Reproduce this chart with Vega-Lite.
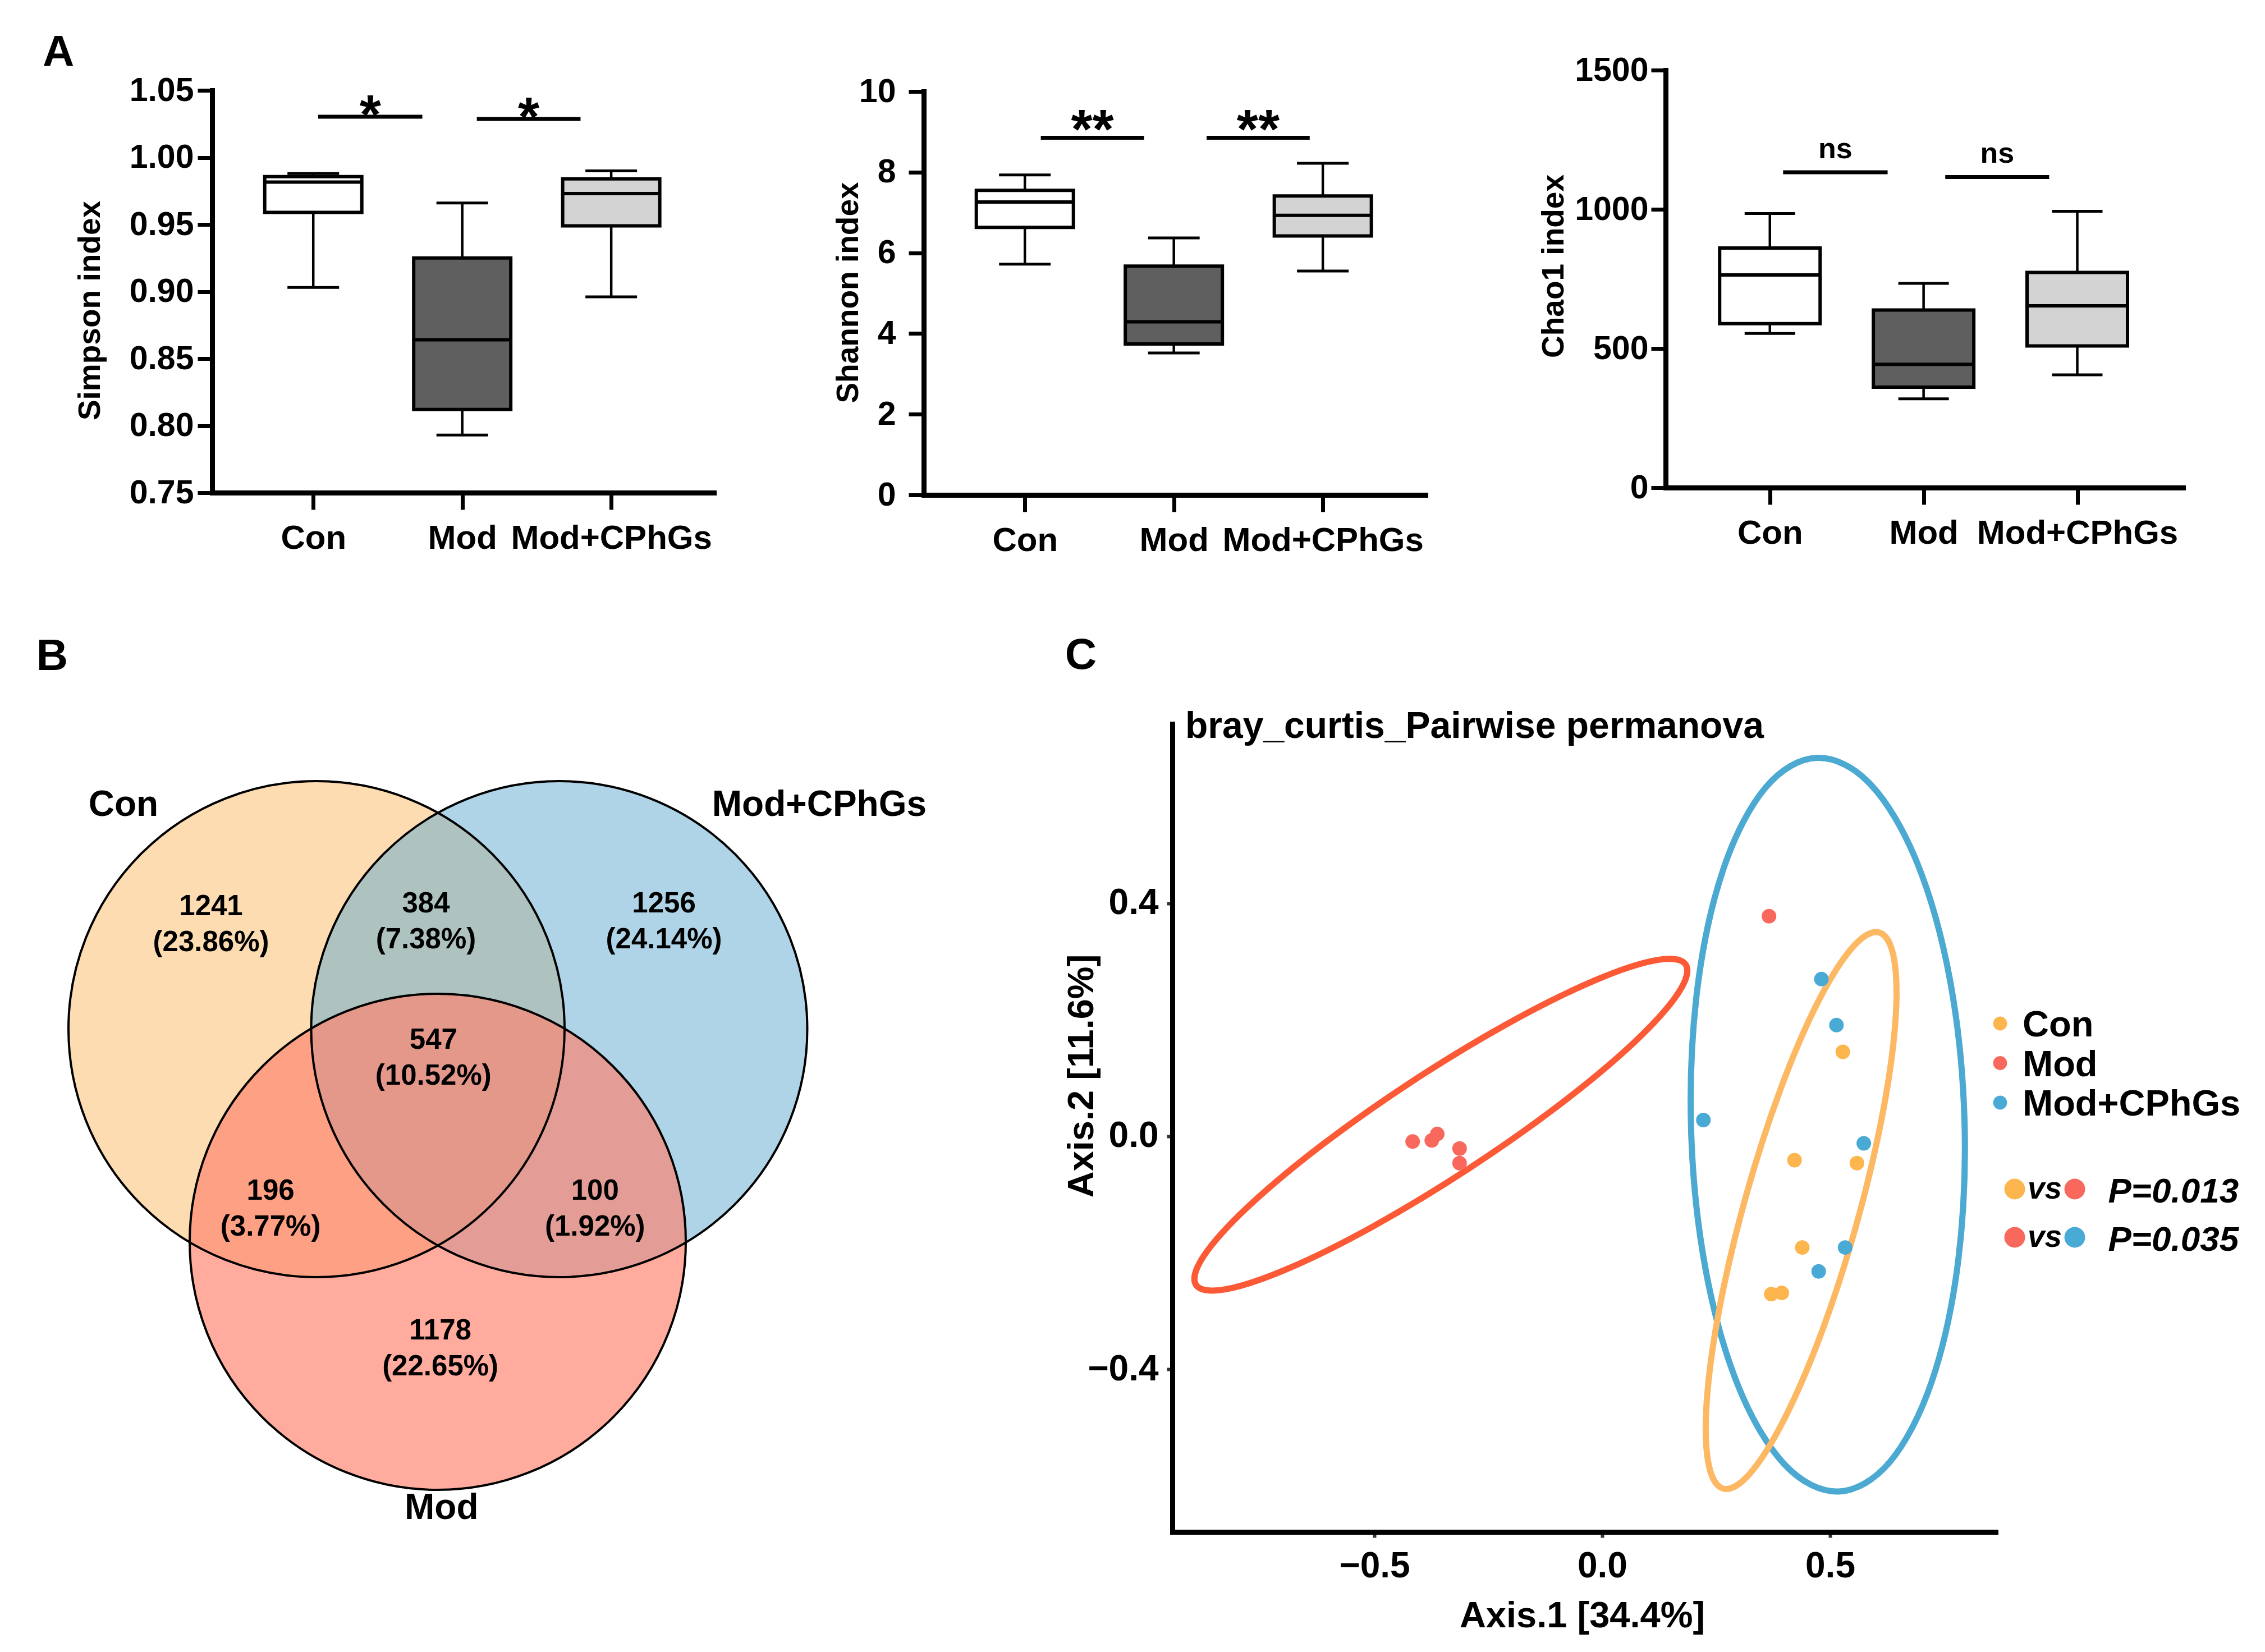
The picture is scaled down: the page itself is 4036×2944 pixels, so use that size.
{
  "$schema": "https://vega.github.io/schema/vega-lite/v6.json",
  "width": 4036,
  "height": 2944,
  "autosize": {"type": "none"},
  "padding": 0,
  "background": "white",
  "config": {
    "view": {"stroke": null},
    "font": "Liberation Sans",
    "axis": {"grid": false, "domainColor": "black", "tickColor": "black", "labelColor": "black", "titleColor": "black", "labelFont": "Liberation Sans", "titleFont": "Liberation Sans", "labelFontWeight": "bold", "titleFontWeight": "bold", "labelOverlap": false, "labelFlush": false, "labelLimit": 1000, "domainCap": "square"},
    "text": {"color": "black", "font": "Liberation Sans"}
  },
  "datasets": {
    "simpson": [
      {"group": "Con", "g": 1, "lower": 0.903, "q1": 0.959, "median": 0.9816, "q3": 0.9857, "upper": 0.988},
      {"group": "Mod", "g": 2, "lower": 0.793, "q1": 0.812, "median": 0.864, "q3": 0.925, "upper": 0.966},
      {"group": "Mod+CPhGs", "g": 3, "lower": 0.896, "q1": 0.949, "median": 0.973, "q3": 0.984, "upper": 0.99}
    ],
    "shannon": [
      {"group": "Con", "g": 1, "lower": 5.72, "q1": 6.63, "median": 7.26, "q3": 7.55, "upper": 7.93},
      {"group": "Mod", "g": 2, "lower": 3.52, "q1": 3.74, "median": 4.29, "q3": 5.67, "upper": 6.37},
      {"group": "Mod+CPhGs", "g": 3, "lower": 5.55, "q1": 6.42, "median": 6.93, "q3": 7.41, "upper": 8.22}
    ],
    "chao1": [
      {"group": "Con", "g": 1, "lower": 554, "q1": 589, "median": 764, "q3": 861, "upper": 985},
      {"group": "Mod", "g": 2, "lower": 319, "q1": 361, "median": 443, "q3": 638, "upper": 734},
      {"group": "Mod+CPhGs", "g": 3, "lower": 405, "q1": 509, "median": 653, "q3": 773, "upper": 993}
    ],
    "simpsonSig": [
      {"x1": 1.033, "x2": 1.732, "xm": 1.383, "y": 1.0303, "label": "*"},
      {"x1": 2.098, "x2": 2.794, "xm": 2.446, "y": 1.0287, "label": "*"}
    ],
    "shannonSig": [
      {"x1": 1.107, "x2": 1.8, "xm": 1.4535, "y": 8.853, "label": "**"},
      {"x1": 2.22, "x2": 2.912, "xm": 2.566, "y": 8.853, "label": "**"}
    ],
    "chao1Sig": [
      {"x1": 1.086, "x2": 1.766, "xm": 1.426, "y": 1133, "label": "ns"},
      {"x1": 2.141, "x2": 2.817, "xm": 2.479, "y": 1116, "label": "ns"}
    ],
    "venn": [
      {"set": "Con", "x": 0, "y": 0, "lx": -0.7785, "ly": 0.902},
      {"set": "Mod+CPhGs", "x": 0.9785, "y": 0, "lx": 2.027, "ly": 0.902},
      {"set": "Mod", "x": 0.4887, "y": -0.8575, "lx": 0.504, "ly": -1.931}
    ],
    "vennRegions": [
      {"count": "1241", "pct": "(23.86%)", "x": -0.4253, "y": 0.4213},
      {"count": "384", "pct": "(7.38%)", "x": 0.4412, "y": 0.433},
      {"count": "1256", "pct": "(24.14%)", "x": 1.4005, "y": 0.433},
      {"count": "547", "pct": "(10.52%)", "x": 0.4713, "y": -0.1183},
      {"count": "196", "pct": "(3.77%)", "x": -0.1853, "y": -0.7256},
      {"count": "100", "pct": "(1.92%)", "x": 1.1228, "y": -0.7256},
      {"count": "1178", "pct": "(22.65%)", "x": 0.4991, "y": -1.2898}
    ],
    "pcoa": [
      {"group": "Con", "x": 0.528, "y": 0.145},
      {"group": "Con", "x": 0.422, "y": -0.041},
      {"group": "Con", "x": 0.559, "y": -0.046},
      {"group": "Con", "x": 0.439, "y": -0.191},
      {"group": "Con", "x": 0.371, "y": -0.271},
      {"group": "Con", "x": 0.394, "y": -0.269},
      {"group": "Mod", "x": 0.366, "y": 0.378},
      {"group": "Mod", "x": -0.416, "y": -0.009},
      {"group": "Mod", "x": -0.374, "y": -0.007},
      {"group": "Mod", "x": -0.362, "y": 0.004},
      {"group": "Mod", "x": -0.313, "y": -0.021},
      {"group": "Mod", "x": -0.313, "y": -0.046},
      {"group": "Mod+CPhGs", "x": 0.481, "y": 0.27},
      {"group": "Mod+CPhGs", "x": 0.514, "y": 0.191},
      {"group": "Mod+CPhGs", "x": 0.222, "y": 0.028},
      {"group": "Mod+CPhGs", "x": 0.574, "y": -0.012},
      {"group": "Mod+CPhGs", "x": 0.533, "y": -0.191},
      {"group": "Mod+CPhGs", "x": 0.475, "y": -0.232}
    ],
    "ellipses": [
      {"group": "Mod", "i": 0, "x": 0.1833, "y": 0.2949},
      {"group": "Mod", "i": 1, "x": 0.1663, "y": 0.2454},
      {"group": "Mod", "i": 2, "x": 0.0702, "y": 0.1615},
      {"group": "Mod", "i": 3, "x": -0.0907, "y": 0.0561},
      {"group": "Mod", "i": 4, "x": -0.2916, "y": -0.0548},
      {"group": "Mod", "i": 5, "x": -0.502, "y": -0.1544},
      {"group": "Mod", "i": 6, "x": -0.6898, "y": -0.2274},
      {"group": "Mod", "i": 7, "x": -0.8266, "y": -0.2628},
      {"group": "Mod", "i": 8, "x": -0.8914, "y": -0.2552},
      {"group": "Mod", "i": 9, "x": -0.8744, "y": -0.2056},
      {"group": "Mod", "i": 10, "x": -0.7783, "y": -0.1217},
      {"group": "Mod", "i": 11, "x": -0.6174, "y": -0.0163},
      {"group": "Mod", "i": 12, "x": -0.4165, "y": 0.0946},
      {"group": "Mod", "i": 13, "x": -0.2062, "y": 0.1941},
      {"group": "Mod", "i": 14, "x": -0.0183, "y": 0.2671},
      {"group": "Mod", "i": 15, "x": 0.1185, "y": 0.3025},
      {"group": "Mod+CPhGs", "i": 0, "x": 0.472, "y": 0.65},
      {"group": "Mod+CPhGs", "i": 1, "x": 0.5886, "y": 0.6047},
      {"group": "Mod+CPhGs", "i": 2, "x": 0.6908, "y": 0.4703},
      {"group": "Mod+CPhGs", "i": 3, "x": 0.7634, "y": 0.2674},
      {"group": "Mod+CPhGs", "i": 4, "x": 0.795, "y": 0.0268},
      {"group": "Mod+CPhGs", "i": 5, "x": 0.781, "y": -0.2148},
      {"group": "Mod+CPhGs", "i": 6, "x": 0.7234, "y": -0.4207},
      {"group": "Mod+CPhGs", "i": 7, "x": 0.631, "y": -0.5595},
      {"group": "Mod+CPhGs", "i": 8, "x": 0.518, "y": -0.61},
      {"group": "Mod+CPhGs", "i": 9, "x": 0.4014, "y": -0.5647},
      {"group": "Mod+CPhGs", "i": 10, "x": 0.2992, "y": -0.4303},
      {"group": "Mod+CPhGs", "i": 11, "x": 0.2266, "y": -0.2274},
      {"group": "Mod+CPhGs", "i": 12, "x": 0.195, "y": 0.0132},
      {"group": "Mod+CPhGs", "i": 13, "x": 0.209, "y": 0.2548},
      {"group": "Mod+CPhGs", "i": 14, "x": 0.2666, "y": 0.4607},
      {"group": "Mod+CPhGs", "i": 15, "x": 0.359, "y": 0.5995},
      {"group": "Con", "i": 0, "x": 0.608, "y": 0.35},
      {"group": "Con", "i": 1, "x": 0.6408, "y": 0.3031},
      {"group": "Con", "i": 2, "x": 0.6427, "y": 0.1904},
      {"group": "Con", "i": 3, "x": 0.613, "y": 0.0295},
      {"group": "Con", "i": 4, "x": 0.5565, "y": -0.1553},
      {"group": "Con", "i": 5, "x": 0.4818, "y": -0.3359},
      {"group": "Con", "i": 6, "x": 0.4001, "y": -0.4848},
      {"group": "Con", "i": 7, "x": 0.324, "y": -0.5793},
      {"group": "Con", "i": 8, "x": 0.265, "y": -0.605},
      {"group": "Con", "i": 9, "x": 0.2322, "y": -0.5581},
      {"group": "Con", "i": 10, "x": 0.2303, "y": -0.4454},
      {"group": "Con", "i": 11, "x": 0.26, "y": -0.2845},
      {"group": "Con", "i": 12, "x": 0.3165, "y": -0.0997},
      {"group": "Con", "i": 13, "x": 0.3912, "y": 0.0809},
      {"group": "Con", "i": 14, "x": 0.4729, "y": 0.2298},
      {"group": "Con", "i": 15, "x": 0.549, "y": 0.3243}
    ],
    "legendItems": [
      {"group": "Con"},
      {"group": "Mod"},
      {"group": "Mod+CPhGs"}
    ],
    "pcomp": [
      {"row": "1", "left": "Con", "right": "Mod", "p": "P=0.013"},
      {"row": "2", "left": "Mod", "right": "Mod+CPhGs", "p": "P=0.035"}
    ]
  },
  "layer": [
    {
      "data": {"name": "simpson"},
      "layer": [
        {
          "mark": {"type": "rule", "color": "black", "strokeWidth": 4.5},
          "encoding": {
            "x": {"field": "g", "type": "quantitative", "scale": {"domain": [0.34, 3.67], "range": [378, 1272], "nice": false, "zero": false},
                  "axis": {"orient": "bottom", "offset": -2066, "values": [1, 2, 3], "labelExpr": "datum.value == 1 ? 'Con' : datum.value == 2 ? 'Mod' : 'Mod+CPhGs'", "title": null, "domainWidth": 9, "tickSize": 30, "tickWidth": 7, "labelFontSize": 60, "labelPadding": 22}},
            "y": {"field": "lower", "type": "quantitative", "scale": {"domain": [0.75, 1.05], "range": [878, 161], "nice": false, "zero": false},
                  "axis": {"orient": "left", "offset": -378, "values": [0.75, 0.8, 0.85, 0.9, 0.95, 1, 1.05], "format": ".2f", "title": "Simpson index", "titleFontSize": 55, "titleX": -218, "titleY": 553, "titleBaseline": "middle", "titleAlign": "center", "titleAngle": 270, "domainWidth": 9, "tickSize": 26, "tickWidth": 7, "labelFontSize": 59, "labelPadding": 7}},
            "y2": {"field": "upper"}
          }
        },
        {"mark": {"type": "tick", "orient": "horizontal", "size": 92, "thickness": 5, "color": "black", "opacity": 1},
         "encoding": {"x": {"field": "g", "type": "quantitative"}, "y": {"field": "lower", "type": "quantitative"}}},
        {"mark": {"type": "tick", "orient": "horizontal", "size": 92, "thickness": 5, "color": "black", "opacity": 1},
         "encoding": {"x": {"field": "g", "type": "quantitative"}, "y": {"field": "upper", "type": "quantitative"}}},
        {"mark": {"type": "bar", "size": 173, "stroke": "black", "strokeWidth": 6, "opacity": 1},
         "encoding": {"x": {"field": "g", "type": "quantitative"}, "y": {"field": "q1", "type": "quantitative"}, "y2": {"field": "q3"},
                      "fill": {"field": "group", "type": "nominal", "scale": {"domain": ["Con", "Mod", "Mod+CPhGs"], "range": ["#ffffff", "#5f5f5f", "#d3d3d3"]}, "legend": null}}},
        {"mark": {"type": "tick", "orient": "horizontal", "size": 173, "thickness": 6, "color": "black", "opacity": 1},
         "encoding": {"x": {"field": "g", "type": "quantitative"}, "y": {"field": "median", "type": "quantitative"}}},
        {"data": {"name": "simpsonSig"}, "mark": {"type": "rule", "color": "black", "strokeWidth": 7},
         "encoding": {"x": {"field": "x1", "type": "quantitative"}, "x2": {"field": "x2"}, "y": {"field": "y", "type": "quantitative"}}},
        {"data": {"name": "simpsonSig"}, "mark": {"type": "text", "fontSize": 98, "fontWeight": "bold", "baseline": "alphabetic", "align": "center", "dy": 30},
         "encoding": {"x": {"field": "xm", "type": "quantitative"}, "y": {"field": "y", "type": "quantitative"}, "text": {"field": "label"}}},
        {"data": {"values": [{}]}, "mark": {"type": "text", "fontSize": 78, "fontWeight": "bold", "baseline": "middle", "align": "center"},
         "encoding": {"x": {"datum": -0.71, "type": "quantitative"}, "y": {"datum": 1.0778, "type": "quantitative"}, "text": {"value": "A"}}}
      ]
    },
    {
      "data": {"name": "shannon"},
      "layer": [
        {
          "mark": {"type": "rule", "color": "black", "strokeWidth": 4.5},
          "encoding": {
            "x": {"field": "g", "type": "quantitative", "scale": {"domain": [0.34, 3.67], "range": [1646, 2540], "nice": false, "zero": false},
                  "axis": {"orient": "bottom", "offset": -2062, "values": [1, 2, 3], "labelExpr": "datum.value == 1 ? 'Con' : datum.value == 2 ? 'Mod' : 'Mod+CPhGs'", "title": null, "domainWidth": 9, "tickSize": 30, "tickWidth": 7, "labelFontSize": 60, "labelPadding": 22}},
            "y": {"field": "lower", "type": "quantitative", "scale": {"domain": [0, 10], "range": [882, 163], "nice": false, "zero": false},
                  "axis": {"orient": "left", "offset": -1646, "values": [0, 2, 4, 6, 8, 10], "format": "d", "title": "Shannon index", "titleFontSize": 55, "titleX": -135, "titleY": 521, "titleBaseline": "middle", "titleAlign": "center", "titleAngle": 270, "domainWidth": 9, "tickSize": 27, "tickWidth": 7, "labelFontSize": 59, "labelPadding": 23}},
            "y2": {"field": "upper"}
          }
        },
        {"mark": {"type": "tick", "orient": "horizontal", "size": 92, "thickness": 5, "color": "black", "opacity": 1},
         "encoding": {"x": {"field": "g", "type": "quantitative"}, "y": {"field": "lower", "type": "quantitative"}}},
        {"mark": {"type": "tick", "orient": "horizontal", "size": 92, "thickness": 5, "color": "black", "opacity": 1},
         "encoding": {"x": {"field": "g", "type": "quantitative"}, "y": {"field": "upper", "type": "quantitative"}}},
        {"mark": {"type": "bar", "size": 173, "stroke": "black", "strokeWidth": 6, "opacity": 1},
         "encoding": {"x": {"field": "g", "type": "quantitative"}, "y": {"field": "q1", "type": "quantitative"}, "y2": {"field": "q3"},
                      "fill": {"field": "group", "type": "nominal", "scale": {"domain": ["Con", "Mod", "Mod+CPhGs"], "range": ["#ffffff", "#5f5f5f", "#d3d3d3"]}, "legend": null}}},
        {"mark": {"type": "tick", "orient": "horizontal", "size": 173, "thickness": 6, "color": "black", "opacity": 1},
         "encoding": {"x": {"field": "g", "type": "quantitative"}, "y": {"field": "median", "type": "quantitative"}}},
        {"data": {"name": "shannonSig"}, "mark": {"type": "rule", "color": "black", "strokeWidth": 7},
         "encoding": {"x": {"field": "x1", "type": "quantitative"}, "x2": {"field": "x2"}, "y": {"field": "y", "type": "quantitative"}}},
        {"data": {"name": "shannonSig"}, "mark": {"type": "text", "fontSize": 98, "fontWeight": "bold", "baseline": "alphabetic", "align": "center", "dy": 19},
         "encoding": {"x": {"field": "xm", "type": "quantitative"}, "y": {"field": "y", "type": "quantitative"}, "text": {"field": "label"}}}
      ]
    },
    {
      "data": {"name": "chao1"},
      "layer": [
        {
          "mark": {"type": "rule", "color": "black", "strokeWidth": 4.5},
          "encoding": {
            "x": {"field": "g", "type": "quantitative", "scale": {"domain": [0.34, 3.67], "range": [2968, 3890], "nice": false, "zero": false},
                  "axis": {"orient": "bottom", "offset": -2075, "values": [1, 2, 3], "labelExpr": "datum.value == 1 ? 'Con' : datum.value == 2 ? 'Mod' : 'Mod+CPhGs'", "title": null, "domainWidth": 9, "tickSize": 30, "tickWidth": 7, "labelFontSize": 60, "labelPadding": 22}},
            "y": {"field": "lower", "type": "quantitative", "scale": {"domain": [0, 1500], "range": [869, 125], "nice": false, "zero": false},
                  "axis": {"orient": "left", "offset": -2968, "values": [0, 500, 1000, 1500], "format": "d", "title": "Chao1 index", "titleFontSize": 55, "titleX": -200, "titleY": 474, "titleBaseline": "middle", "titleAlign": "center", "titleAngle": 270, "domainWidth": 9, "tickSize": 26, "tickWidth": 7, "labelFontSize": 59, "labelPadding": 5}},
            "y2": {"field": "upper"}
          }
        },
        {"mark": {"type": "tick", "orient": "horizontal", "size": 90, "thickness": 5, "color": "black", "opacity": 1},
         "encoding": {"x": {"field": "g", "type": "quantitative"}, "y": {"field": "lower", "type": "quantitative"}}},
        {"mark": {"type": "tick", "orient": "horizontal", "size": 90, "thickness": 5, "color": "black", "opacity": 1},
         "encoding": {"x": {"field": "g", "type": "quantitative"}, "y": {"field": "upper", "type": "quantitative"}}},
        {"mark": {"type": "bar", "size": 179, "stroke": "black", "strokeWidth": 6, "opacity": 1},
         "encoding": {"x": {"field": "g", "type": "quantitative"}, "y": {"field": "q1", "type": "quantitative"}, "y2": {"field": "q3"},
                      "fill": {"field": "group", "type": "nominal", "scale": {"domain": ["Con", "Mod", "Mod+CPhGs"], "range": ["#ffffff", "#5f5f5f", "#d3d3d3"]}, "legend": null}}},
        {"mark": {"type": "tick", "orient": "horizontal", "size": 179, "thickness": 6, "color": "black", "opacity": 1},
         "encoding": {"x": {"field": "g", "type": "quantitative"}, "y": {"field": "median", "type": "quantitative"}}},
        {"data": {"name": "chao1Sig"}, "mark": {"type": "rule", "color": "black", "strokeWidth": 7},
         "encoding": {"x": {"field": "x1", "type": "quantitative"}, "x2": {"field": "x2"}, "y": {"field": "y", "type": "quantitative"}}},
        {"data": {"name": "chao1Sig"}, "mark": {"type": "text", "fontSize": 52, "fontWeight": "bold", "baseline": "alphabetic", "align": "center", "dy": -25},
         "encoding": {"x": {"field": "xm", "type": "quantitative"}, "y": {"field": "y", "type": "quantitative"}, "text": {"field": "label"}}}
      ]
    },
    {
      "layer": [
        {"data": {"name": "venn"}, "transform": [{"filter": "datum.set != 'Mod'"}],
         "mark": {"type": "point", "shape": "circle", "filled": true, "size": 781456, "opacity": 1, "fillOpacity": 0.5},
         "encoding": {
           "x": {"field": "x", "type": "quantitative", "scale": {"domain": [-1.2, 2.3], "range": [33.6, 1580.6], "nice": false, "zero": false}, "axis": null},
           "y": {"field": "y", "type": "quantitative", "scale": {"domain": [-2.0, 1.2], "range": [2718, 1303.6], "nice": false, "zero": false}, "axis": null},
           "fill": {"field": "set", "type": "nominal", "scale": {"domain": ["Con", "Mod+CPhGs", "Mod"], "range": ["#FBB963", "#5FA9CF", "#FF816C"]}, "legend": null}
         }},
        {"data": {"name": "venn"}, "transform": [{"filter": "datum.set == 'Mod'"}],
         "mark": {"type": "point", "shape": "circle", "filled": true, "size": 781456, "opacity": 1, "fillOpacity": 0.66},
         "encoding": {
           "x": {"field": "x", "type": "quantitative"},
           "y": {"field": "y", "type": "quantitative"},
           "fill": {"field": "set", "type": "nominal"}
         }},
        {"data": {"name": "venn"}, "mark": {"type": "point", "shape": "circle", "filled": false, "size": 781456, "opacity": 1, "stroke": "black", "strokeWidth": 4},
         "encoding": {"x": {"field": "x", "type": "quantitative"}, "y": {"field": "y", "type": "quantitative"}}},
        {"data": {"name": "vennRegions"}, "mark": {"type": "text", "fontSize": 51, "fontWeight": "bold", "baseline": "middle", "align": "center", "dy": -32},
         "encoding": {"x": {"field": "x", "type": "quantitative"}, "y": {"field": "y", "type": "quantitative"}, "text": {"field": "count"}}},
        {"data": {"name": "vennRegions"}, "mark": {"type": "text", "fontSize": 51, "fontWeight": "bold", "baseline": "middle", "align": "center", "dy": 32},
         "encoding": {"x": {"field": "x", "type": "quantitative"}, "y": {"field": "y", "type": "quantitative"}, "text": {"field": "pct"}}},
        {"data": {"name": "venn"}, "mark": {"type": "text", "fontSize": 64, "fontWeight": "bold", "baseline": "middle", "align": "center"},
         "encoding": {"x": {"field": "lx", "type": "quantitative"}, "y": {"field": "ly", "type": "quantitative"}, "text": {"field": "set"}}},
        {"data": {"values": [{}]}, "mark": {"type": "text", "fontSize": 78, "fontWeight": "bold", "baseline": "middle", "align": "center"},
         "encoding": {"x": {"datum": -1.0656, "type": "quantitative"}, "y": {"datum": 1.501, "type": "quantitative"}, "text": {"value": "B"}}}
      ]
    },
    {
      "layer": [
        {"data": {"name": "ellipses"}, "mark": {"type": "line", "interpolate": "cardinal-closed", "strokeWidth": 11, "opacity": 1},
         "encoding": {
           "x": {"field": "x", "type": "quantitative", "scale": {"domain": [-0.9433, 0.8633], "range": [2089, 3556], "nice": false, "zero": false},
                 "axis": {"orient": "bottom", "offset": -214, "values": [-0.5, 0, 0.5], "format": ".1f", "title": "Axis.1 [34.4%]", "titleFontSize": 65, "titleX": 2819, "titleY": 149, "titleBaseline": "middle", "titleAlign": "center", "titleAngle": 0, "domainWidth": 9, "tickSize": 10, "tickWidth": 6, "tickColor": "#333333", "labelFontSize": 64, "labelPadding": 19}},
           "y": {"field": "y", "type": "quantitative", "scale": {"domain": [-0.6795, 0.7084], "range": [2730, 1290], "nice": false, "zero": false},
                 "axis": {"orient": "left", "offset": -2089, "values": [-0.4, 0, 0.4], "format": ".1f", "title": "Axis.2 [11.6%]", "titleFontSize": 65, "titleX": -162, "titleY": 1917, "titleBaseline": "middle", "titleAlign": "center", "titleAngle": 270, "domainWidth": 9, "tickSize": 10, "tickWidth": 6, "tickColor": "#333333", "labelFontSize": 64, "labelPadding": 15}},
           "stroke": {"field": "group", "type": "nominal", "scale": {"domain": ["Con", "Mod", "Mod+CPhGs"], "range": ["#FDB863", "#FC5A36", "#4BA9D2"]}, "legend": null},
           "order": {"field": "i", "type": "quantitative"}
         }},
        {"data": {"name": "pcoa"}, "mark": {"type": "point", "shape": "circle", "filled": true, "size": 676, "opacity": 1},
         "encoding": {
           "x": {"field": "x", "type": "quantitative"},
           "y": {"field": "y", "type": "quantitative"},
           "color": {"field": "group", "type": "nominal", "scale": {"domain": ["Con", "Mod", "Mod+CPhGs"], "range": ["#FDB54E", "#F8685C", "#4AAAD6"]}, "legend": null}
         }},
        {"data": {"values": [{}]}, "mark": {"type": "text", "fontSize": 66, "fontWeight": "bold", "baseline": "alphabetic", "align": "left"},
         "encoding": {"x": {"datum": -0.915, "type": "quantitative"}, "y": {"datum": 0.6843, "type": "quantitative"}, "text": {"value": "bray_curtis_Pairwise permanova"}}},
        {"data": {"values": [{}]}, "mark": {"type": "text", "fontSize": 78, "fontWeight": "bold", "baseline": "middle", "align": "center"},
         "encoding": {"x": {"datum": -1.144, "type": "quantitative"}, "y": {"datum": 0.8255, "type": "quantitative"}, "text": {"value": "C"}}}
      ]
    },
    {
      "data": {"name": "legendItems"},
      "layer": [
        {"mark": {"type": "point", "shape": "circle", "filled": true, "size": 615, "opacity": 1},
         "encoding": {
           "x": {"datum": "symbol", "type": "nominal", "scale": {"type": "point", "domain": ["symbol", "label"], "range": [3564, 3604], "padding": 0}, "axis": null},
           "y": {"field": "group", "type": "nominal", "scale": {"type": "point", "domain": ["Con", "Mod", "Mod+CPhGs"], "range": [1824, 1965], "padding": 0}, "axis": null},
           "color": {"field": "group", "type": "nominal", "scale": {"domain": ["Con", "Mod", "Mod+CPhGs"], "range": ["#FDB54E", "#F8685C", "#4AAAD6"]}, "legend": null}
         }},
        {"mark": {"type": "text", "fontSize": 65, "fontWeight": "bold", "baseline": "middle", "align": "left", "dy": 3},
         "encoding": {
           "x": {"datum": "label", "type": "nominal"},
           "y": {"field": "group", "type": "nominal"},
           "text": {"field": "group"}
         }}
      ]
    },
    {
      "data": {"name": "pcomp"},
      "layer": [
        {"mark": {"type": "point", "shape": "circle", "filled": true, "size": 1370, "opacity": 1},
         "encoding": {
           "x": {"datum": "left", "type": "nominal", "scale": {"type": "point", "domain": ["left", "mid", "right", "p"], "range": [3590, 3750.5], "padding": 0}, "axis": null},
           "y": {"field": "row", "type": "nominal", "scale": {"type": "point", "domain": ["1", "2"], "range": [2119, 2205], "padding": 0}, "axis": null},
           "fill": {"field": "left", "type": "nominal", "scale": {"domain": ["Con", "Mod", "Mod+CPhGs"], "range": ["#FDB54E", "#F8685C", "#4AAAD6"]}, "legend": null}
         }},
        {"mark": {"type": "point", "shape": "circle", "filled": true, "size": 1370, "opacity": 1},
         "encoding": {
           "x": {"datum": "right", "type": "nominal"},
           "y": {"field": "row", "type": "nominal"},
           "fill": {"field": "right", "type": "nominal"}
         }},
        {"mark": {"type": "text", "fontSize": 55, "fontWeight": "bold", "fontStyle": "italic", "baseline": "middle", "align": "center"},
         "encoding": {"x": {"datum": "mid", "type": "nominal"}, "y": {"field": "row", "type": "nominal"}, "text": {"value": "vs"}}},
        {"mark": {"type": "text", "fontSize": 62, "fontWeight": "bold", "fontStyle": "italic", "baseline": "middle", "align": "left", "dx": 6, "dy": 5},
         "encoding": {"x": {"datum": "p", "type": "nominal"}, "y": {"field": "row", "type": "nominal"}, "text": {"field": "p"}}}
      ]
    }
  ],
  "resolve": {
    "scale": {"x": "independent", "y": "independent", "fill": "independent", "color": "independent", "stroke": "independent"},
    "axis": {"x": "independent", "y": "independent"}
  }
}
